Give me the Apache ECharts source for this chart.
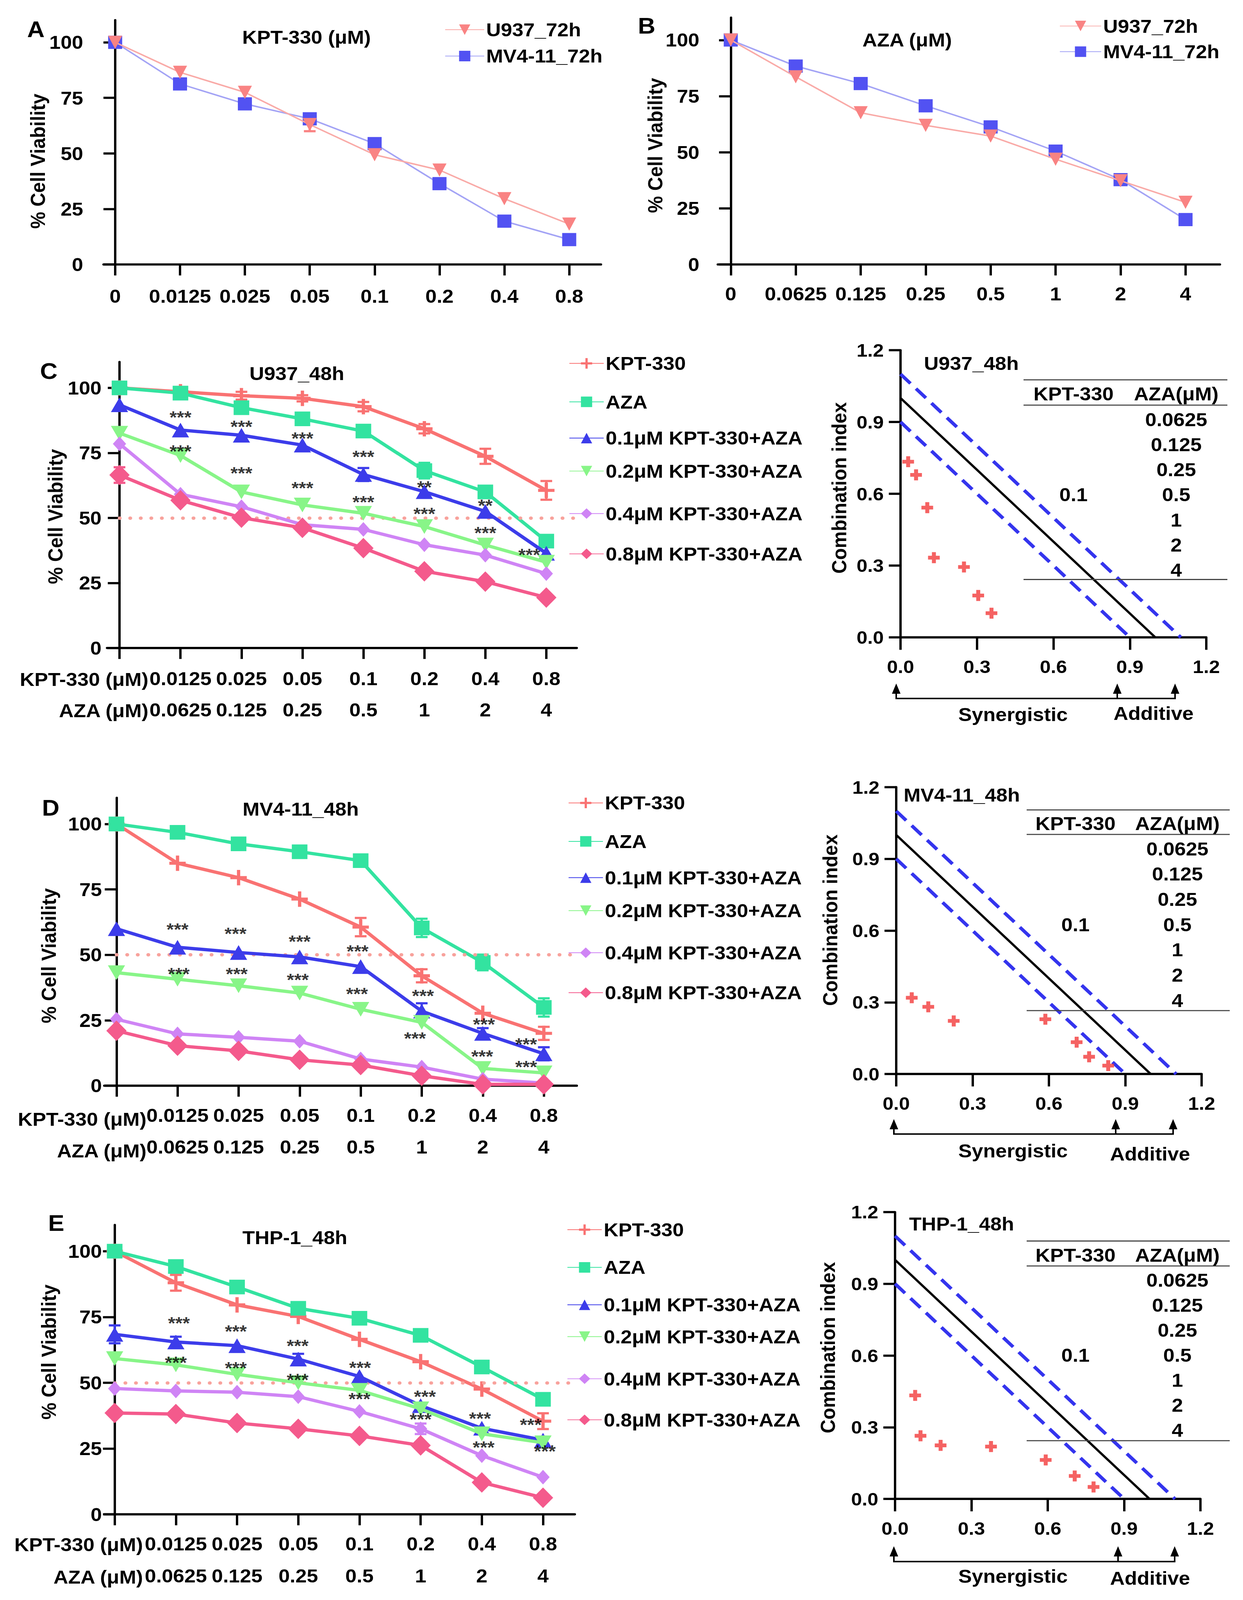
<!DOCTYPE html>
<html>
<head>
<meta charset="utf-8">
<script src="https://cdn.jsdelivr.net/npm/echarts@6/dist/echarts.min.js"></script>
<style>html,body{margin:0;padding:0;background:#fff;overflow:hidden}#c{width:3183px;height:4368px;transform-origin:0 0}</style>
</head>
<body>
<div id="c"></div>
<script>
// ---------------- DATA ----------------
const kptDoses = ['0','0.0125','0.025','0.05','0.1','0.2','0.4','0.8'];
const azaDoses = ['0','0.0625','0.125','0.25','0.5','1','2','4'];

// Panel A (KPT-330, 72h)
const a_U937  = [100, 86.5, 77.5, 63.0, 49.4, 42.5, 29.6, 18.2];
const a_MV411 = [100, 81.3, 72.3, 65.6, 54.4, 36.4, 19.5, 11.2];
// Panel B (AZA, 72h)
const b_U937  = [100, 83.6, 67.6, 62.0, 57.2, 46.9, 37.3, 27.7];
const b_MV411 = [100, 88.4, 80.6, 70.7, 61.3, 50.5, 37.8, 20.0];

const comboNames = ['KPT-330','AZA','0.1μM KPT-330+AZA','0.2μM KPT-330+AZA','0.4μM KPT-330+AZA','0.8μM KPT-330+AZA'];

// Panel C (U937 48h)
const c_kpt = [100, 98.5, 97.0, 96.0, 92.8, 84.3, 73.7, 60.6];
const c_aza = [100, 98.0, 92.4, 88.1, 83.4, 68.2, 60.0, 41.1];
const c_k01 = [93.5, 83.8, 81.8, 78.0, 66.7, 60.1, 52.5, 36.4];
const c_k02 = [82.6, 74.0, 60.0, 55.0, 51.8, 46.7, 39.6, 33.0];
const c_k04 = [78.5, 59.1, 54.3, 47.4, 45.6, 39.7, 35.7, 28.6];
const c_k08 = [66.5, 56.8, 50.1, 46.2, 38.4, 29.5, 25.5, 19.4];
// Panel D (MV4-11 48h)
const d_kpt = [100, 85.0, 79.5, 71.3, 60.6, 42.0, 27.7, 20.0];
const d_aza = [100, 96.8, 92.4, 89.4, 86.0, 60.3, 47.1, 29.9];
const d_k01 = [60.0, 52.9, 50.9, 49.2, 45.5, 28.5, 20.0, 12.2];
const d_k02 = [43.2, 40.7, 38.2, 35.4, 29.2, 24.2, 6.6, 4.9];
const d_k04 = [25.4, 19.8, 18.5, 17.0, 10.2, 7.1, 2.5, 1.0];
const d_k08 = [21.0, 15.3, 13.3, 9.9, 7.9, 3.8, 0.5, 0.5];
// Panel E (THP-1 48h)
const e_kpt = [100, 88.0, 79.6, 75.2, 66.5, 58.0, 47.6, 35.4];
const e_aza = [100, 94.2, 86.4, 78.3, 74.5, 68.0, 56.0, 43.7];
const e_k01 = [68.4, 65.5, 64.1, 59.0, 52.4, 41.3, 32.7, 28.2];
const e_k02 = [59.2, 56.8, 53.2, 50.0, 47.1, 40.1, 30.6, 27.2];
const e_k04 = [47.8, 46.9, 46.4, 44.7, 39.1, 32.5, 22.3, 14.1];
const e_k08 = [38.5, 38.1, 34.7, 32.5, 29.8, 26.2, 12.1, 6.3];

// error bars: [doseIndex, mean, halfRange, seriesIndex]
const errA = [[3, 63.0, 3.0, 0]];
const errC = [[1,98.5,1.5,0],[2,97,1.5,0],[3,96,1.2,0],[4,92.8,1.8,0],[5,84.3,1.8,0],[6,73.7,2.9,0],[7,60.6,3.6,0],[5,68.2,3.0,1],[7,41.1,2.0,1],[4,66.7,2.5,2],[0,66.5,3.0,5]];
const errD = [[4,60.6,3.5,0],[5,42.0,2.5,0],[7,20.0,2.5,0],[5,60.3,3.5,1],[6,47.1,3.0,1],[7,29.9,3.5,1],[5,28.5,3.0,2],[6,20.0,2.0,2],[7,12.2,2.5,2]];
const errE = [[1,88.0,3.0,0],[7,35.4,3.0,0],[0,68.4,3.4,2],[1,65.5,2.0,2],[3,59.0,2.0,2],[5,32.5,2.0,4]];

// significance marks: [doseIndex, y, text]
const starsC = [[1,90,'***'],[2,86.4,'***'],[3,81.8,'***'],[4,74.7,'***'],[5,63,'**'],[6,56,'**'],[6.72,37,'***'],
                [1,76.9,'***'],[2,68.5,'***'],[3,62.8,'***'],[4,57.3,'***'],[5,52.8,'***'],[6,45.4,'***']];
const starsD = [[1,61,'***'],[1.95,59.3,'***'],[3,56.3,'***'],[3.95,52.6,'***'],[5.02,35.6,'***'],[6.02,24.7,'***'],[6.71,17.1,'***'],
                [1.02,44,'***'],[1.97,44,'***'],[2.97,41.7,'***'],[3.94,36.3,'***'],[4.89,19.3,'***'],[5.99,12.4,'***'],[6.71,8.4,'***']];
const starsE = [[1.05,73.8,'***'],[1.98,70.7,'***'],[2.99,65.2,'***'],[4.01,57,'***'],[5.07,45.9,'***'],[5.97,37.6,'***'],[6.8,35.2,'***'],
                [1,58.9,'***'],[1.98,56.8,'***'],[2.99,52.4,'***'],[4,45,'***'],[5,37.4,'***'],[6.03,26.7,'***'],[7.03,25.2,'***']];

// Combination index plots: [fraction affected, CI]
const ciU937 = [[0.030,0.734],[0.061,0.679],[0.105,0.542],[0.131,0.333],[0.249,0.294],[0.305,0.175],[0.357,0.101]];
const ciMV411 = [[0.061,0.319],[0.126,0.281],[0.226,0.222],[0.586,0.229],[0.709,0.133],[0.758,0.072],[0.833,0.035]];
const ciTHP1 = [[0.079,0.433],[0.100,0.264],[0.179,0.224],[0.377,0.219],[0.592,0.163],[0.706,0.096],[0.780,0.050]];
const ciAdditive = [[0,1.0],[1.0,0]];
const ciUpper = [[0,1.1],[1.1,0]];
const ciLower = [[0,0.9],[0.9,0]];
const ciTickLabels = ['0.0','0.3','0.6','0.9','1.2'];
const tableKpt = '0.1';
const yTicks = [0,25,50,75,100];
const xTicks = [0,1,2,3,4,5,6,7];

// ---------------- STYLE ----------------
const FONT = "'Liberation Sans', Arial, Helvetica, sans-serif";
const TRI_DOWN = 'path://M0,0L10,0L5,9Z';
const PLUS_THIN = 'path://M4,0H6V4H10V6H6V10H4V6H0V4H4Z';
const PLUS_THICK = 'path://M3.3,0H6.7V3.3H10V6.7H6.7V10H3.3V6.7H0V3.3H3.3Z';
const comboColors = ['#F97272','#33E3A0','#3C3CEA','#88F588','#CF84F5','#F45A8C'];
const comboSymbols = [PLUS_THIN,'rect','triangle',TRI_DOWN,'diamond','diamond'];
const comboSizes = [[42,42],[40,40],[44,40],[44,40],[34,40],[52,56]];

// The page is photographed in the visible viewport; fit the full figure into it.
const host = document.getElementById('c');
const vh = window.innerHeight;
if (vh && vh < 4368) host.style.transform = 'scale(1,' + (vh / 4368) + ')';

const chart = echarts.init(host, null, {renderer:'svg', width:3183, height:4368});

const lbl = (size) => ({fontSize:size, fontWeight:'bold', fontFamily:FONT, color:'#000'});
const AX = {color:'#000', width:6};

// grids: 0 A,1 B,2 C,3 D,4 E,5 CI-C,6 CI-D,7 CI-E
const grids = [
  {left:265, top:55, width:1274, height:667},
  {left:1838, top:48, width:1286, height:674},
  {left:274, top:988, width:1203, height:781},
  {left:267, top:2178, width:1210, height:786},
  {left:267, top:3344, width:1205, height:790},
  {left:2306, top:956, width:783, height:784},
  {left:2295, top:2149, width:782, height:783},
  {left:2292, top:3309, width:782, height:783}
];

function viabX(g, min, max, fmt, margin, lh){
  return {gridIndex:g, type:'value', min:min, max:max,
    axisLine:{show:true, onZero:false, lineStyle:AX},
    axisTick:{show:true, customValues:xTicks, length:30, lineStyle:AX},
    axisLabel:Object.assign({customValues:xTicks, formatter:fmt, margin:margin, lineHeight:lh}, lbl(52)),
    splitLine:{show:false}};
}
function viabY(g, margin){
  return {gridIndex:g, type:'value', min:0, max:110,
    axisLine:{show:true, onZero:true, lineStyle:AX},
    axisTick:{show:true, customValues:yTicks, length:30, lineStyle:AX},
    axisLabel:Object.assign({customValues:yTicks, margin:margin}, lbl(52)),
    splitLine:{show:false}};
}
function ciX(g){
  return {gridIndex:g, type:'value', min:0, max:1.2, interval:0.3,
    axisLine:{show:true, onZero:false, lineStyle:AX},
    axisTick:{show:true, length:34, lineStyle:AX},
    axisLabel:Object.assign({formatter:(v)=>ciTickLabels[Math.round(v/0.3)], margin:54, lineHeight:52}, lbl(50)),
    splitLine:{show:false}};
}
function ciY(g){
  return {gridIndex:g, type:'value', min:0, max:1.2, interval:0.3,
    axisLine:{show:true, onZero:false, lineStyle:AX},
    axisTick:{show:true, length:30, lineStyle:AX},
    axisLabel:Object.assign({formatter:(v)=>ciTickLabels[Math.round(v/0.3)], margin:43}, lbl(50)),
    splitLine:{show:false}};
}
const fmtA = (v)=>kptDoses[Math.round(v)];
const fmtB = (v)=>azaDoses[Math.round(v)];
const fmtCombo = (v)=>{const i=Math.round(v); return i===0 ? '' : kptDoses[i] + '\n' + azaDoses[i];};

const xAxes = [
  viabX(0, -0.18, 7.49, fmtA, 60, 52),
  viabX(1, -0.20, 7.53, fmtB, 54, 52),
  viabX(2, -0.205, 7.50, fmtCombo, 41, 85),
  viabX(3, -0.20, 7.54, fmtCombo, 37, 87),
  viabX(4, -0.17, 7.52, fmtCombo, 36, 88),
  ciX(5), ciX(6), ciX(7)
];
const yAxes = [
  viabY(0, 52), viabY(1, 47), viabY(2, 14), viabY(3, 6), viabY(4, 6),
  ciY(5), ciY(6), ciY(7)
];

function errSeries(ax, errs, colors){
  return {type:'custom', xAxisIndex:ax, yAxisIndex:ax, data:errs, silent:true, z:2,
    encode:{x:0, y:1},
    renderItem:function(params, api){
      const x = api.value(0), m = api.value(1), h = api.value(2);
      const c = colors[api.value(3)];
      const p1 = api.coord([x, m+h]), p2 = api.coord([x, m-h]);
      const w = 15;
      const st = {stroke:c, lineWidth:6};
      return {type:'group', children:[
        {type:'line', shape:{x1:p1[0], y1:p1[1], x2:p2[0], y2:p2[1]}, style:st},
        {type:'line', shape:{x1:p1[0]-w, y1:p1[1], x2:p1[0]+w, y2:p1[1]}, style:st},
        {type:'line', shape:{x1:p2[0]-w, y1:p2[1], x2:p2[0]+w, y2:p2[1]}, style:st}
      ]};
    }};
}
function starSeries(ax, stars){
  return {type:'scatter', xAxisIndex:ax, yAxisIndex:ax, data:stars, symbolSize:1, silent:true, z:20,
    encode:{x:0, y:1},
    itemStyle:{color:'rgba(0,0,0,0)'},
    label:Object.assign({show:true, position:'inside', offset:[0,9], formatter:(p)=>p.data[2]}, lbl(48))};
}
function comboPanel(ax, sets, errs, stars){
  const out = sets.map((vals, k) => ({
    type:'line', name:comboNames[k], xAxisIndex:ax, yAxisIndex:ax,
    data: vals.map((v,i)=>[i,v]),
    symbol: comboSymbols[k], symbolSize: comboSizes[k],
    itemStyle:{color:comboColors[k]},
    lineStyle:{color:comboColors[k], width:9},
    z: 3 + k, silent:true
  }));
  out[0].markLine = {silent:true, symbol:['none','none'], label:{show:false},
    lineStyle:{type:[1,26], cap:'round', color:'#F8A29C', width:9},
    data:[[{coord:[0,50]},{coord:[7.5,50]}]]};
  out.push(errSeries(ax, errs, comboColors));
  out.push(starSeries(ax, stars));
  return out;
}
function ciPanel(ax, pts){
  return [
    {type:'line', xAxisIndex:ax, yAxisIndex:ax, data:ciUpper, symbol:'none', silent:true,
      lineStyle:{color:'#3434EE', width:9, type:[36,20]}},
    {type:'line', xAxisIndex:ax, yAxisIndex:ax, data:ciLower, symbol:'none', silent:true,
      lineStyle:{color:'#3434EE', width:9, type:[36,20]}},
    {type:'line', xAxisIndex:ax, yAxisIndex:ax, data:ciAdditive, symbol:'none', silent:true,
      lineStyle:{color:'#000', width:6}},
    {type:'scatter', xAxisIndex:ax, yAxisIndex:ax, data:pts, symbol:PLUS_THICK, symbolSize:30, silent:true,
      itemStyle:{color:'#F23B3B'}, z:5}
  ];
}

const series = [
  {type:'line', name:'MV4-11_72h', xAxisIndex:0, yAxisIndex:0, data:a_MV411.map((v,i)=>[i,v]),
    symbol:'rect', symbolSize:36, itemStyle:{color:'#5252F2'}, lineStyle:{color:'#A3A3F5', width:4}, z:3},
  {type:'line', name:'U937_72h', xAxisIndex:0, yAxisIndex:0, data:a_U937.map((v,i)=>[i,v]),
    symbol:TRI_DOWN, symbolSize:36, itemStyle:{color:'#F98383'}, lineStyle:{color:'#F9AAA7', width:4}, z:4},
  errSeries(0, errA, ['#F98383']),
  {type:'line', name:'MV4-11_72h', xAxisIndex:1, yAxisIndex:1, data:b_MV411.map((v,i)=>[i,v]),
    symbol:'rect', symbolSize:36, itemStyle:{color:'#5252F2'}, lineStyle:{color:'#A3A3F5', width:4}, z:3},
  {type:'line', name:'U937_72h', xAxisIndex:1, yAxisIndex:1, data:b_U937.map((v,i)=>[i,v]),
    symbol:TRI_DOWN, symbolSize:36, itemStyle:{color:'#F98383'}, lineStyle:{color:'#F9AAA7', width:4}, z:4}
].concat(
  comboPanel(2, [c_kpt,c_aza,c_k01,c_k02,c_k04,c_k08], errC, starsC),
  comboPanel(3, [d_kpt,d_aza,d_k01,d_k02,d_k04,d_k08], errD, starsD),
  comboPanel(4, [e_kpt,e_aza,e_k01,e_k02,e_k04,e_k08], errE, starsE),
  ciPanel(5, ciU937), ciPanel(6, ciMV411), ciPanel(7, ciTHP1)
);

// legends (one per item for exact placement)
function legendItem(name, left, cy, iw){
  return {data:[name], left:left, top:cy-28, orient:'vertical', itemWidth:iw, itemHeight:36, padding:0,
    selectedMode:false, itemGap:0,
    textStyle:Object.assign({lineHeight:56}, lbl(52))};
}
const legends = [
  legendItem('U937_72h', 1139, 81, 100), legendItem('MV4-11_72h', 1139, 153, 100),
  legendItem('U937_72h', 2713, 71, 106), legendItem('MV4-11_72h', 2713, 141, 106)
];
const legYs = [[992,1097,1196,1286,1402,1512],[2192,2297,2396,2486,2601,2710],[3357,3460,3562,3649,3764,3876]];
const legLeft = [1457, 1455, 1452];
legYs.forEach((ys, p) => ys.forEach((y, k) => legends.push(legendItem(comboNames[k], legLeft[p], y, 88))));

// ---------------- GRAPHIC TEXT / DECORATION ----------------
function txt(text, x, y, o){
  o = o || {};
  const al = o.align || 'center';
  return {type:'text', x:x, y:y, rotation:o.rot||0, z:100, silent:true,
    style:{text:text, fill:'#000', fontSize:o.size||52, fontWeight:'bold', fontFamily:FONT,
      align:al, verticalAlign:'middle', textAlign:al, textVerticalAlign:'middle'}};
}
function hline(x1, x2, y, w, c){
  return {type:'line', z:100, silent:true, shape:{x1:x1, y1:y, x2:x2, y2:y}, style:{stroke:c||'#000', lineWidth:w||4}};
}
function vline(x, y1, y2, w){
  return {type:'line', z:100, silent:true, shape:{x1:x, y1:y1, x2:x, y2:y2}, style:{stroke:'#000', lineWidth:w||4}};
}
function arrows(baseY, tipY, xs, synX, synY, addX, addY){
  const out = [hline(xs[0]-2, xs[2]+2, baseY, 4)];
  xs.forEach(x => {
    out.push(vline(x, baseY, tipY+20, 4));
    out.push({type:'polygon', z:100, silent:true, shape:{points:[[x,tipY],[x-11,tipY+28],[x+11,tipY+28]]}, style:{fill:'#000'}});
  });
  out.push(txt('Synergistic', synX, synY));
  out.push(txt('Additive', addX, addY));
  return out;
}
function table(x1, x2, yTop, yHead, yBottom, headY, kptX, azaX, y0, step, kptRow){
  const out = [hline(x1, x2, yTop, 3, '#444'), hline(x1, x2, yHead, 3, '#444'), hline(x1, x2, yBottom, 3, '#444')];
  out.push(txt('KPT-330', kptX, headY));
  out.push(txt('AZA(μM)', azaX, headY));
  azaDoses.slice(1).forEach((d, i) => out.push(txt(d, azaX, y0 + i*step)));
  out.push(txt(tableKpt, kptX, y0 + kptRow*step));
  return out;
}

const graphic = [
  txt('A', 92, 80, {size:62}), txt('B', 1656, 71, {size:62}), txt('C', 125, 1013, {size:62}),
  txt('D', 130, 2206, {size:62}), txt('E', 144, 3339, {size:62}),
  txt('KPT-330 (μM)', 785, 101), txt('AZA (μM)', 2323, 109),
  txt('U937_48h', 760, 1020), txt('MV4-11_48h', 770, 2209), txt('THP-1_48h', 755, 3378),
  txt('% Cell Viability', 97, 440, {rot:Math.PI/2}),
  txt('% Cell Viability', 1678, 397, {rot:Math.PI/2}),
  txt('% Cell Viability', 142, 1410, {rot:Math.PI/2}),
  txt('% Cell Viability', 125, 2609, {rot:Math.PI/2}),
  txt('% Cell Viability', 125, 3691, {rot:Math.PI/2}),
  txt('Combination index', 2149, 1332, {rot:Math.PI/2}),
  txt('Combination index', 2126, 2512, {rot:Math.PI/2}),
  txt('Combination index', 2120, 3679, {rot:Math.PI/2}),
  txt('KPT-330 (μM)', 380, 1855, {align:'right'}), txt('AZA (μM)', 380, 1940, {align:'right'}),
  txt('KPT-330 (μM)', 375, 3055, {align:'right'}), txt('AZA (μM)', 375, 3142, {align:'right'}),
  txt('KPT-330 (μM)', 366, 4217, {align:'right'}), txt('AZA (μM)', 366, 4305, {align:'right'}),
  txt('U937_48h', 2366, 992, {align:'left'}),
  txt('MV4-11_48h', 2314, 2170, {align:'left'}),
  txt('THP-1_48h', 2328, 3341, {align:'left'})
].concat(
  table(2621, 3143, 1037, 1106, 1582, 1075, 2749, 3012, 1145, 68.5, 3),
  table(2629, 3149, 2211, 2278, 2759, 2248, 2754, 3015, 2317, 69, 3),
  table(2629, 3149, 3388, 3456, 3933, 3426, 2754, 3015, 3495, 68.2, 3),
  arrows(1907, 1866, [2295, 2861, 3009], 2594, 1950, 2954, 1947),
  arrows(3096, 3055, [2289, 2857, 3004], 2594, 3142, 2945, 3150),
  arrows(4263, 4221, [2289, 2863, 3008], 2594, 4303, 2945, 4308)
);

chart.setOption({
  animation:false,
  backgroundColor:'#fff',
  grid:grids,
  xAxis:xAxes,
  yAxis:yAxes,
  legend:legends,
  series:series,
  graphic:graphic
});
</script>
</body>
</html>
